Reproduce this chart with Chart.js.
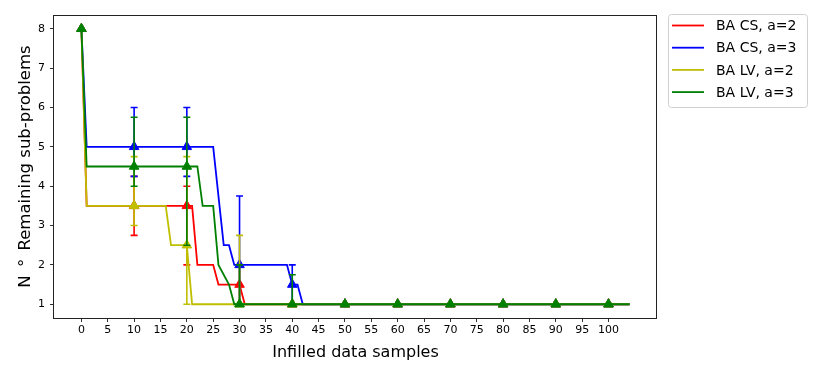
<!DOCTYPE html>
<html>
<head>
<meta charset="utf-8">
<script src="https://cdn.jsdelivr.net/npm/chart.js@4.4.1/dist/chart.umd.min.js"></script>
<style>
  html, body { margin: 0; padding: 0; background: #fff; }
</style>
</head>
<body>
<canvas id="chart" width="830" height="372"></canvas>
<script>
// tick labels
const xTicks = [0, 5, 10, 15, 20, 25, 30, 35, 40, 45, 50, 55, 60, 65, 70, 75, 80, 85, 90, 95, 100];
const yTicks = [1, 2, 3, 4, 5, 6, 7, 8];

// step curves (x, y breakpoints)
const csA2X = [0, 1, 21, 22, 25, 26, 30, 31, 104];
const csA2Y = [8, 3.5, 3.5, 2, 2, 1.5, 1.5, 1, 1];
const csA3X = [0, 1, 25, 27, 28, 29, 39, 40, 41, 42, 104];
const csA3Y = [8, 5, 5, 2.5, 2.5, 2, 2, 1.5, 1.5, 1, 1];
const lvA2X = [0, 1, 16, 17, 20, 21, 104];
const lvA2Y = [8, 3.5, 3.5, 2.5, 2.5, 1, 1];
const lvA3X = [0, 1, 22, 23, 25, 26, 28, 29, 104];
const lvA3Y = [8, 4.5, 4.5, 3.5, 3.5, 2, 1.5, 1, 1];

// triangle markers every 10 samples
const markerX = [0, 10, 20, 30, 40, 50, 60, 70, 80, 90, 100];
const csA2M = [8, 3.5, 3.5, 1.5, 1, 1, 1, 1, 1, 1, 1];
const csA3M = [8, 5, 5, 2, 1.5, 1, 1, 1, 1, 1, 1];
const lvA2M = [8, 3.5, 2.5, 1, 1, 1, 1, 1, 1, 1, 1];
const lvA3M = [8, 4.5, 4.5, 1, 1, 1, 1, 1, 1, 1, 1];

// error bars
const errX = [10, 20, 30, 40];
const csA2Lo = [2.75, 2.0, 1.0, 1.0];
const csA2Hi = [4.25, 4.0, 2.0, 1.0];
const csA3Lo = [4.25, 4.25, 1.0, 1.0];
const csA3Hi = [6.0, 6.0, 3.75, 2.0];
const lvA2Lo = [3.0, 1.0, 1.0, 1.0];
const lvA2Hi = [4.75, 4.75, 2.75, 1.0];
const lvA3Lo = [4.0, 2.5, 1.0, 1.0];
const lvA3Hi = [5.75, 5.75, 2.0, 1.75];

const series = [
    { label: 'BA CS, a=2', color: '#ff0000', xs: csA2X, ys: csA2Y, m: csA2M, lo: csA2Lo, hi: csA2Hi },
    { label: 'BA CS, a=3', color: '#0000ff', xs: csA3X, ys: csA3Y, m: csA3M, lo: csA3Lo, hi: csA3Hi },
    { label: 'BA LV, a=2', color: '#bfbf00', xs: lvA2X, ys: lvA2Y, m: lvA2M, lo: lvA2Lo, hi: lvA2Hi },
    { label: 'BA LV, a=3', color: '#008000', xs: lvA3X, ys: lvA3Y, m: lvA3M, lo: lvA3Lo, hi: lvA3Hi },
];

const FONT = 'DejaVu Sans';

// lower order is drawn on top, so the last series gets the lowest order
const datasets = [];
series.forEach((s, i) => {
    const base = (series.length - i) * 2;
    datasets.push({
        label: s.label,
        data: s.xs.map((x, j) => ({ x, y: s.ys[j] })),
        borderColor: s.color,
        backgroundColor: s.color,
        borderWidth: 1.8,
        pointRadius: 0,
        tension: 0,
        fill: false,
        order: base,
        isLegend: true,
    });
    datasets.push({
        label: s.label + ' markers',
        data: markerX.map((x, j) => ({ x, y: s.m[j] })),
        showLine: false,
        pointStyle: 'triangle',
        pointRadius: 5.5,
        pointHoverRadius: 5.5,
        borderColor: s.color,
        backgroundColor: s.color,
        borderWidth: 1,
        order: base - 1,
        errX: errX,
        errLow: s.lo,
        errHigh: s.hi,
    });
});

const errorBars = {
    id: 'errorBars',
    beforeDatasetDraw(chart, args) {
        const ds = chart.data.datasets[args.index];
        if (!ds.errX) return;
        const { ctx, scales: { x, y } } = chart;
        ctx.save();
        ctx.strokeStyle = ds.borderColor;
        ctx.lineWidth = 1.6;
        ds.errX.forEach((v, i) => {
            const px = x.getPixelForValue(v);
            const lo = y.getPixelForValue(ds.errLow[i]);
            const hi = y.getPixelForValue(ds.errHigh[i]);
            if (Math.abs(lo - hi) < 0.5) return;
            ctx.beginPath();
            ctx.moveTo(px, lo); ctx.lineTo(px, hi);
            ctx.moveTo(px - 3.5, lo); ctx.lineTo(px + 3.5, lo);
            ctx.moveTo(px - 3.5, hi); ctx.lineTo(px + 3.5, hi);
            ctx.stroke();
        });
        ctx.restore();
    }
};

const frameAndLegend = {
    id: 'frameAndLegend',
    afterDraw(chart) {
        const { ctx, chartArea: a } = chart;
        ctx.save();
        // axes box
        ctx.strokeStyle = '#222';
        ctx.lineWidth = 1;
        ctx.strokeRect(Math.round(a.left) - 0.5, Math.round(a.top) + 0.5,
            Math.round(a.width), Math.round(a.height));

        // legend outside the plot, top right
        const bx = 668, by = 14, bw = 139, bh = 93;
        ctx.beginPath();
        ctx.roundRect(bx + 0.5, by + 0.5, bw, bh, 3);
        ctx.fillStyle = 'rgba(255,255,255,0.8)';
        ctx.fill();
        ctx.strokeStyle = '#d0d0d0';
        ctx.stroke();

        ctx.font = '14px "' + FONT + '"';
        ctx.textBaseline = 'middle';
        ctx.fillStyle = '#000';
        chart.data.datasets.filter(d => d.isLegend).forEach((d, i) => {
            const yy = by + 11.5 + i * 22.2;
            ctx.strokeStyle = d.borderColor;
            ctx.lineWidth = 1.8;
            ctx.beginPath();
            ctx.moveTo(672, yy); ctx.lineTo(704, yy);
            ctx.stroke();
            ctx.fillText(d.label, 716, yy + 1);
        });
        ctx.restore();
    }
};

new Chart(document.getElementById('chart'), {
    type: 'line',
    data: { datasets },
    plugins: [errorBars, frameAndLegend],
    options: {
        responsive: false,
        animation: false,
        layout: { padding: { top: 15, right: 173, bottom: 0, left: 0 } },
        plugins: { legend: { display: false }, tooltip: { enabled: false } },
        scales: {
            x: {
                type: 'linear',
                min: -5.2,
                max: 109.2,
                afterBuildTicks: (scale) => { scale.ticks = xTicks.map(v => ({ value: v })); },
                afterFit: (scale) => { scale.height = 54; },
                border: { display: false },
                grid: { drawOnChartArea: false, drawTicks: true, tickLength: 4, color: '#333' },
                ticks: {
                    autoSkip: false, maxRotation: 0, padding: 2, color: '#000',
                    font: { family: FONT, size: 11 },
                    callback: (v) => String(v),
                },
                title: {
                    display: true, text: 'Infilled data samples', color: '#000',
                    font: { family: FONT, size: 16 },
                    padding: { top: 0, bottom: 10 },
                },
            },
            y: {
                type: 'linear',
                min: 0.65,
                max: 8.35,
                afterBuildTicks: (scale) => { scale.ticks = yTicks.map(v => ({ value: v })); },
                afterFit: (scale) => { scale.width = 54; },
                border: { display: false },
                grid: { drawOnChartArea: false, drawTicks: true, tickLength: 4, color: '#333' },
                ticks: {
                    padding: 5, color: '#000',
                    font: { family: FONT, size: 11 },
                    callback: (v) => String(v),
                },
                title: {
                    display: true, text: 'N\u2002°\u2002Remaining sub-problems', color: '#000',
                    font: { family: FONT, size: 16.5 },
                    padding: { top: 16, bottom: 0 },
                },
            },
        },
    },
});
</script>
</body>
</html>
